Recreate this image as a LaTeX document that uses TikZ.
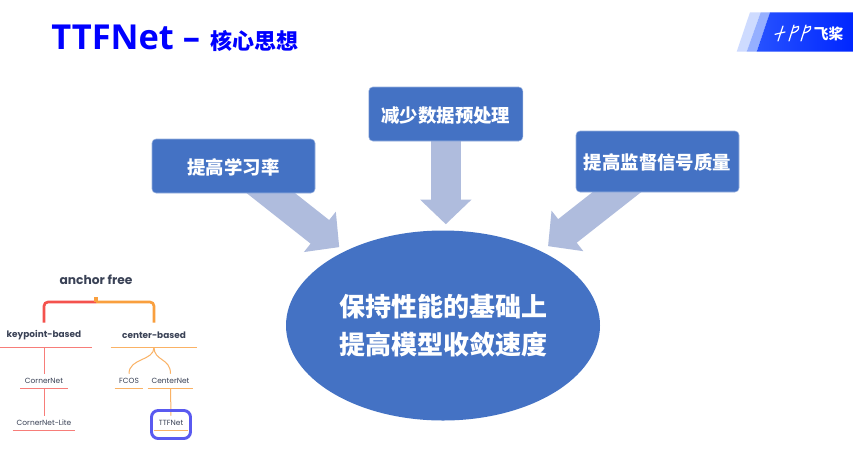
\documentclass[tikz,border=0pt]{standalone}
\usepackage{fontspec}
\setmainfont{Noto Sans CJK SC}
\newfontfamily\titlefont{Open Sans}
\newfontfamily\treefont{Poppins}
\usepackage{tikz}
\usetikzlibrary{arrows.meta, positioning, calc, shapes.geometric, backgrounds}
\definecolor{boxblue}{HTML}{4472C4}
\definecolor{fatblue}{HTML}{AFBCDD}
\definecolor{treered}{HTML}{F4524D}
\definecolor{treeorange}{HTML}{F99F3E}
\definecolor{treeink}{HTML}{3A4256}
\definecolor{ringblue}{HTML}{5A5AF0}
\tikzstyle{fatarrow} = [fatblue, line width=22.5pt, -{Triangle[length=18.5pt, width=37.5pt]}]

\begin{document}
\begin{tikzpicture}[
	x=0.75pt, y=-0.75pt,
	goal/.style={rectangle, draw=boxblue!55, line width=0.4pt, fill=boxblue, rounded corners=3pt, text=white, font=\fontsize{13.8}{16}\selectfont\bfseries, inner sep=0pt, minimum height=40.5pt, text height=12pt, text depth=0pt},
	core/.style={ellipse, fill=boxblue, text=white, align=center, inner sep=0pt, minimum width=235.5pt, minimum height=142.5pt, font=\fontsize{19.5}{28.5}\selectfont\bfseries},
	bigtag/.style={inner sep=0pt, text=treeink, minimum height=18pt, font=\treefont\fontsize{6.7}{8}\selectfont\bfseries},
	smalltag/.style={inner sep=0pt, text=treeink, minimum height=10.5pt, font=\treefont\fontsize{5.6}{6}\selectfont},
	redline/.style={treered!75, line width=0.75pt},
	orangeline/.style={treeorange!80, line width=0.75pt}
]
\useasboundingbox (0,0) rectangle (853,451);

% Title
\node[anchor=base west, inner sep=0pt, text=blue] (title) at (51,49) {\titlefont\fontsize{25.8}{27}\selectfont\bfseries TTFNet –\kern7.5pt\normalfont\rmfamily\fontsize{16.5}{20}\selectfont\bfseries 核心思想};

% Logo
\fill[blue!15!white!95!cyan] (750,12.3) -- (760.7,12.3) -- (746.7,51.7) -- (736.7,51.7) -- cycle;
\fill[blue!35!white!90!cyan] (760.7,12.3) -- (770,12.3) -- (756.7,51.7) -- (746.7,51.7) -- cycle;
\shade[left color=blue!80!cyan!85!white, right color=blue!85!cyan] (770,12.3) -- (853,12.3) -- (853,51.7) -- (756.7,51.7) -- cycle;
\draw[white, line width=0.9pt, line cap=round] (775,34.3) -- (785,32) (783,26) -- (778,41);
\foreach \dx in {0,12}
	\draw[white, line width=0.9pt, line cap=round, xshift=\dx*0.75pt] (794,25) -- (789,41) (794,27.5) -- (798.5,26.5) .. controls (799.5,29) and (797,32) .. (792,33);
\node[text=white, inner sep=0pt, font=\fontsize{11}{12}\selectfont\bfseries] (logo) at (828.5,33.5) {飞桨};

% Centre and the three goals
\node[core] (core) at (443,325.5) {保持性能的基础上\\提高模型收敛速度};
\node[goal, minimum width=122.25pt] (rate) at (233.5,166) {提高学习率};
\node[goal, minimum width=115.5pt] (prep) at (445.8,114) {减少数据预处理};
\node[goal, minimum width=122.25pt, minimum height=45.75pt] (signal) at (657.5,161.5) {提高监督信号质量};

\begin{pgfonlayer}{background}
\fill[white] (0,0) rectangle (853,451);
\draw[fatarrow, shorten >=5pt] ($(rate.-36)!-20pt!(core.143)$) to (core.143);
\draw[fatarrow, shorten >=4.5pt] (prep.center) to (prep.center |- core.north);
\draw[fatarrow, shorten >=6.2pt] ($(signal.217)!-20pt!(core.37)$) to (core.37);
\end{pgfonlayer}

% anchor free tree
\node[inner sep=0pt, text=treeink, font=\treefont\fontsize{9.2}{10}\selectfont\bfseries] (free) at (96,280) {anchor free};
\coordinate (fork) at (96,302);
\coordinate (stub) at (96,297);

\node[bigtag, minimum width=72pt] (keypoint) at (44,335) {keypoint-based};
\node[smalltag, minimum width=35.25pt] (corner) at (44,381) {CornerNet};
\node[smalltag, minimum width=46.5pt] (lite) at (44,423) {CornerNet-Lite};
\node[bigtag, minimum width=64.5pt] (center) at (154,335) {center-based};
\node[smalltag, minimum width=21pt] (fcos) at (129,381) {FCOS};
\node[smalltag, minimum width=33.75pt] (centernet) at (170.5,381) {CenterNet};
\node[smalltag, minimum width=25.5pt] (ttf) at (171,423) {TTFNet};

\draw[treered, line width=2pt, rounded corners=3pt] (fork) -| (keypoint.north);
\draw[treeorange, line width=2pt, rounded corners=3pt] (fork) -| (center.north);
\draw[treeorange, line width=3pt] (fork) to (stub);

\foreach \tag in {keypoint, corner, lite}
	\draw[redline] (\tag.south west) -- (\tag.south east);
\foreach \tag in {center, fcos, centernet, ttf}
	\draw[orangeline] (\tag.south west) -- (\tag.south east);

\draw[redline] (keypoint.south) to (corner.north);
\draw[redline] (corner.south) to (lite.north);
\draw[orangeline] (center.south) .. controls +(0,14) and +(0,-16) .. (fcos.north);
\draw[orangeline] (center.south) .. controls +(0,14) and +(0,-16) .. (centernet.north);
\draw[orangeline] (centernet.south) to (ttf.north);
\draw[ringblue, line width=2.2pt, rounded corners=5pt] (151.5,410.5) rectangle (190.5,438.5);
\end{tikzpicture}
\end{document}
